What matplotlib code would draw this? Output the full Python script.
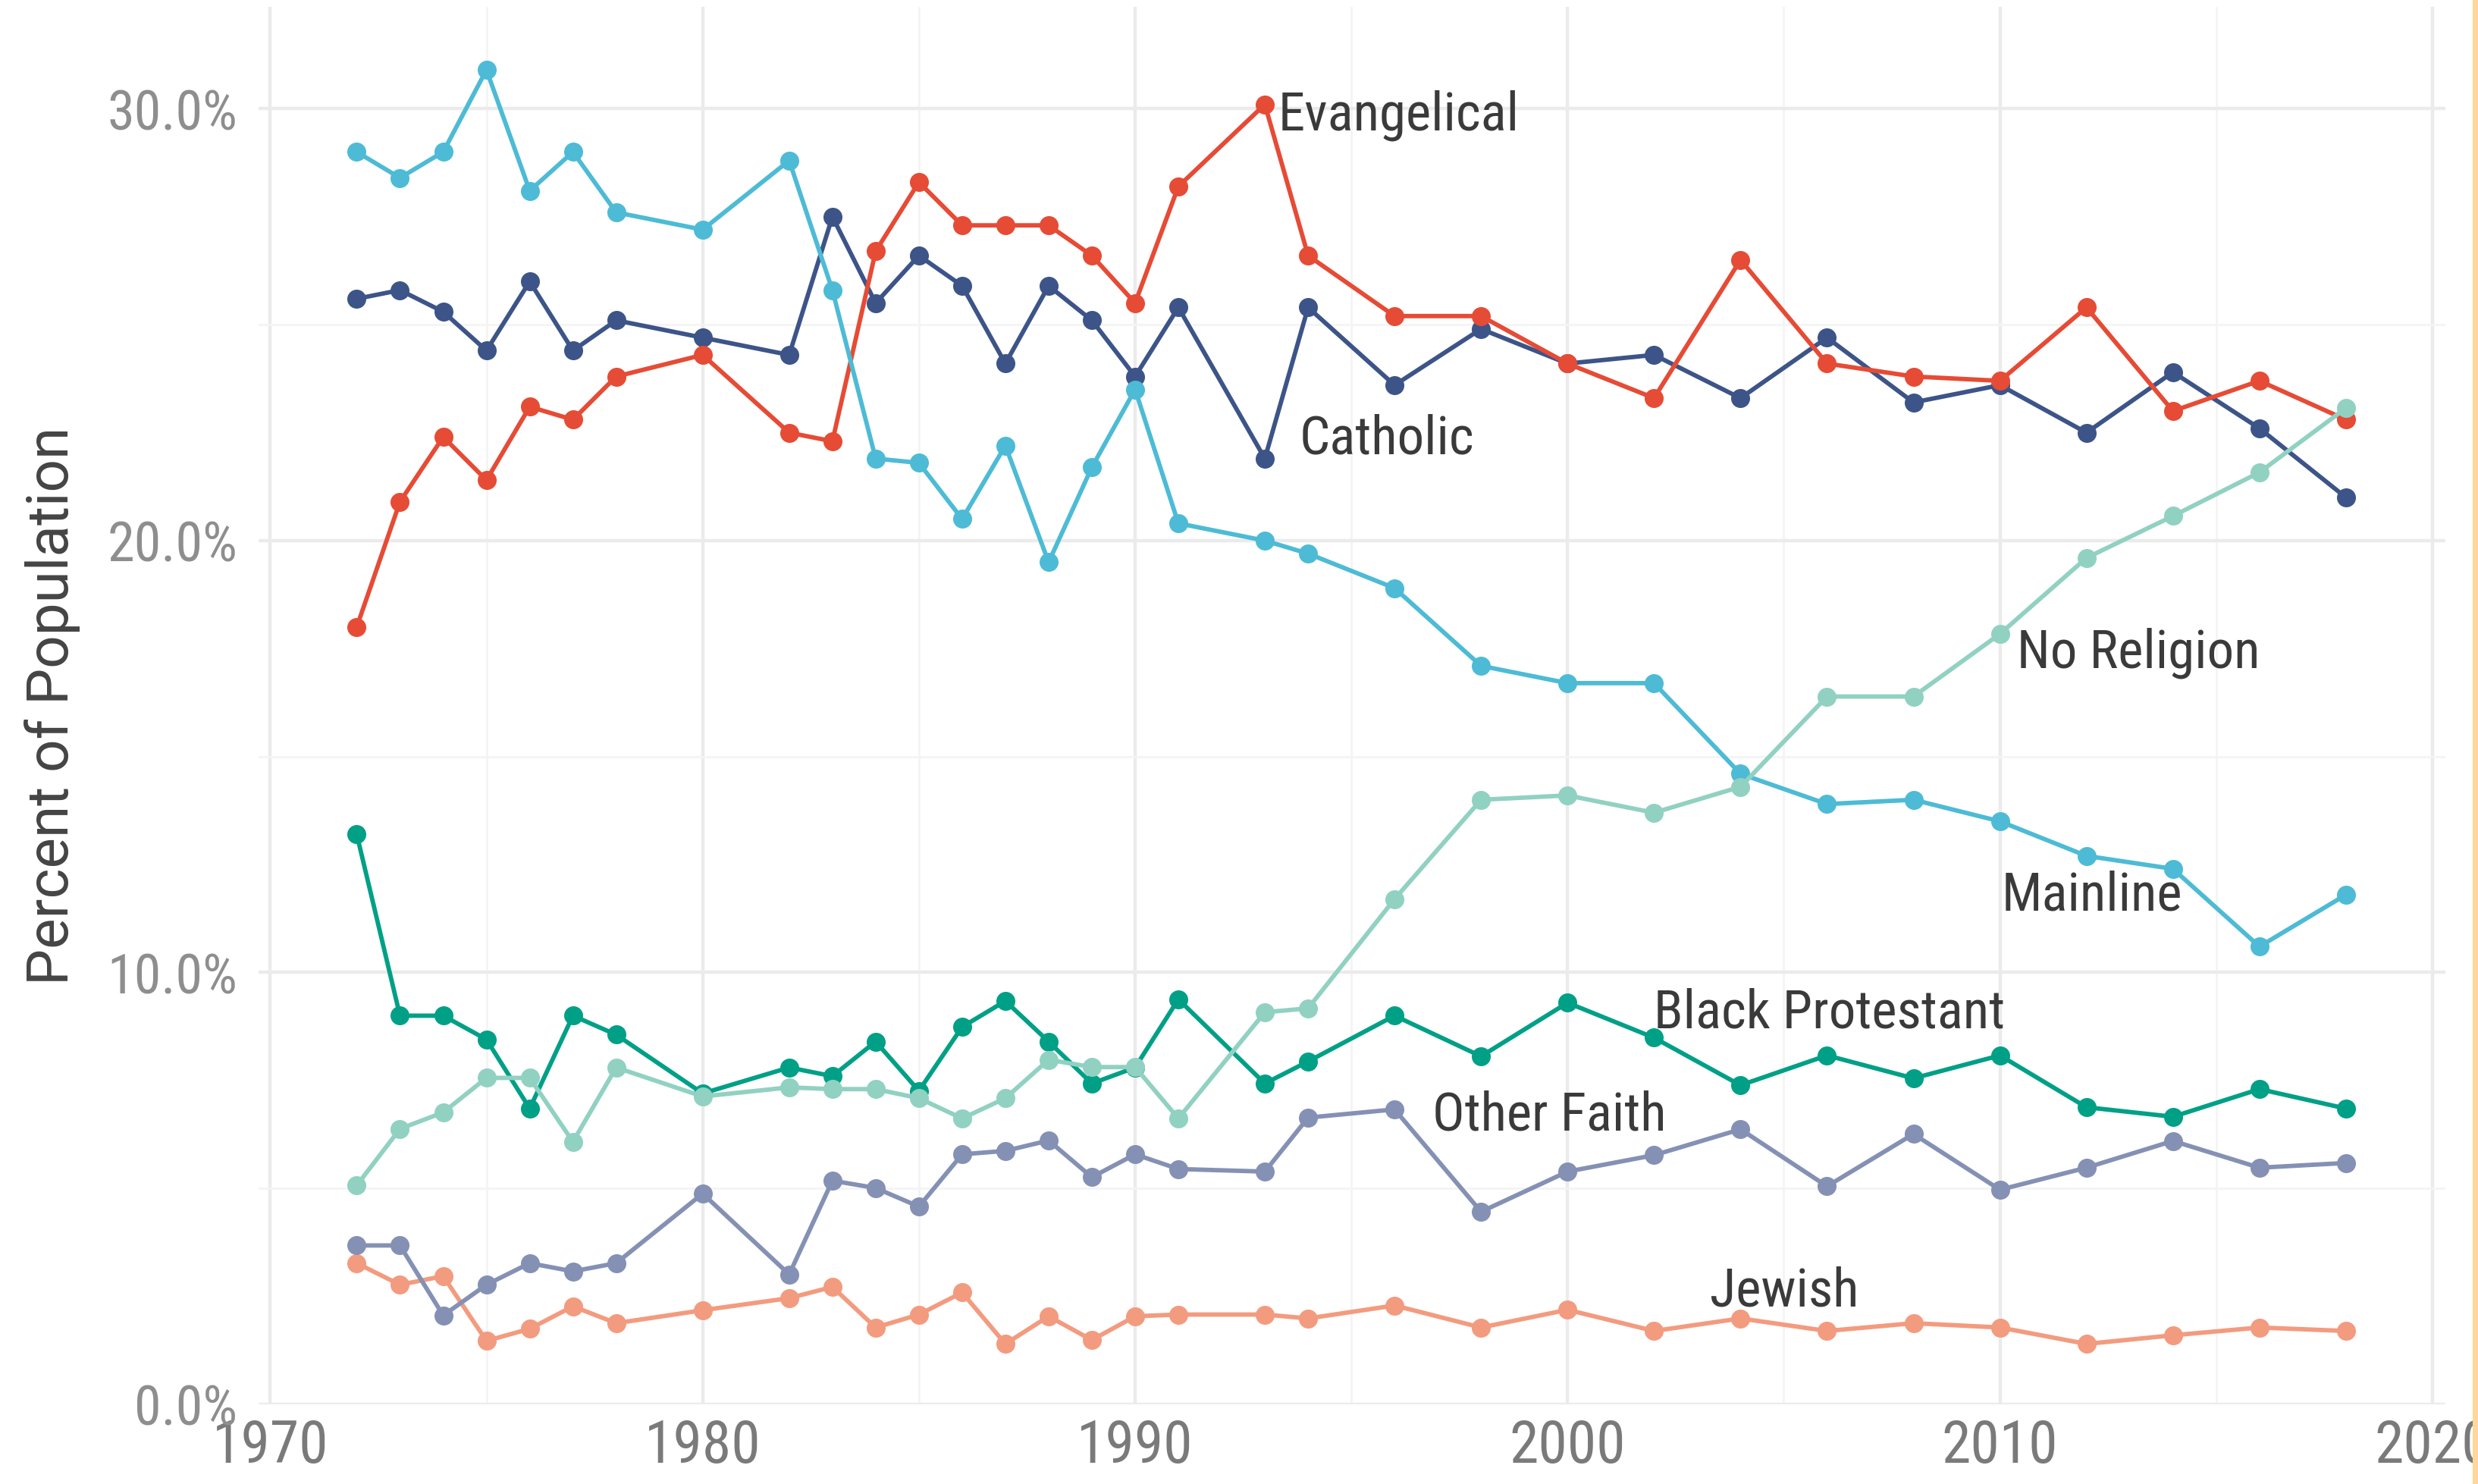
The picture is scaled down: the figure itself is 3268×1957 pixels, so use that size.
import matplotlib
matplotlib.use('Agg')
import matplotlib.pyplot as plt
import matplotlib.font_manager as fm
import matplotlib.ticker as ticker
from matplotlib.patches import Rectangle

# 字体：优先使用窄体
names = {f.name for f in fm.fontManager.ttflist}
cond_font = next((n for n in ['Liberation Sans Narrow', 'Roboto Condensed'] if n in names), 'DejaVu Sans')
title_font = 'Roboto' if 'Roboto' in names else 'DejaVu Sans'

# 数据（GSS 年份）
years = [1972, 1973, 1974, 1975, 1976, 1977, 1978, 1980, 1982, 1983, 1984, 1985,
         1986, 1987, 1988, 1989, 1990, 1991, 1993, 1994, 1996, 1998, 2000, 2002,
         2004, 2006, 2008, 2010, 2012, 2014, 2016, 2018]

black_protestant = [13.2, 9.0, 9.0, 8.45, 6.85, 9.0, 8.56, 7.2, 7.8, 7.6, 8.4, 7.26,
                    8.74, 9.34, 8.4, 7.43, 7.8, 9.38, 7.43, 7.94, 9.0, 8.06, 9.3, 8.49,
                    7.39, 8.08, 7.55, 8.08, 6.88, 6.66, 7.3, 6.85]
catholic = [25.6, 25.8, 25.3, 24.4, 26.0, 24.4, 25.1, 24.7, 24.3, 27.5, 25.5, 26.6,
            25.9, 24.1, 25.9, 25.1, 23.8, 25.4, 21.9, 25.4, 23.6, 24.9, 24.1, 24.3,
            23.3, 24.7, 23.2, 23.6, 22.5, 23.9, 22.6, 21.0]
evangelical = [18.0, 20.9, 22.4, 21.4, 23.1, 22.8, 23.8, 24.3, 22.5, 22.3, 26.7, 28.3,
               27.3, 27.3, 27.3, 26.6, 25.5, 28.2, 30.1, 26.6, 25.2, 25.2, 24.1, 23.3,
               26.5, 24.1, 23.8, 23.7, 25.4, 23.0, 23.7, 22.8]
jewish = [3.27, 2.77, 2.97, 1.47, 1.75, 2.27, 1.88, 2.18, 2.46, 2.72, 1.78, 2.08,
          2.59, 1.4, 2.04, 1.49, 2.04, 2.08, 2.08, 1.99, 2.29, 1.78, 2.19, 1.7,
          1.99, 1.7, 1.88, 1.78, 1.4, 1.6, 1.78, 1.7]
mainline = [29.0, 28.4, 29.0, 30.9, 28.1, 29.0, 27.6, 27.2, 28.8, 25.8, 21.9, 21.8,
            20.5, 22.2, 19.5, 21.7, 23.5, 20.4, 20.0, 19.7, 18.9, 17.1, 16.7, 16.7,
            14.6, 13.9, 14.0, 13.5, 12.7, 12.4, 10.6, 11.8]
no_religion = [5.07, 6.38, 6.76, 7.56, 7.56, 6.08, 7.8, 7.13, 7.34, 7.3, 7.3, 7.09,
               6.62, 7.09, 7.98, 7.81, 7.81, 6.62, 9.08, 9.17, 11.7, 14.0, 14.1, 13.7,
               14.3, 16.39, 16.39, 17.84, 19.6, 20.57, 21.58, 23.07]
other_faith = [3.68, 3.68, 2.06, 2.77, 3.27, 3.08, 3.27, 4.88, 3.01, 5.18, 5.01, 4.58,
               5.79, 5.87, 6.11, 5.26, 5.79, 5.45, 5.39, 6.64, 6.83, 4.46, 5.39, 5.77,
               6.37, 5.05, 6.26, 4.97, 5.48, 6.1, 5.48, 5.59]

series = [
    ('Black Protestant', black_protestant, '#00A087'),
    ('Catholic', catholic, '#3C5488'),
    ('Evangelical', evangelical, '#E64B35'),
    ('Jewish', jewish, '#F39B7F'),
    ('Mainline', mainline, '#4DBBD5'),
    ('No Religion', no_religion, '#91D1C2'),
    ('Other Faith', other_faith, '#8491B4'),
]

fig = plt.figure(figsize=(32.68, 19.58), dpi=100)
fig.patch.set_facecolor('white')
ax = fig.add_axes([341 / 3268, 105 / 1958, 2884 / 3268, 1843 / 1958])
ax.set_facecolor('white')

for name, vals, col in series:
    ax.plot(years, vals, color=col, lw=4.2, marker='o', ms=17, zorder=3)

ax.set_xlim(1969.73, 2020.3)
ax.set_ylim(0, 32.36)

ax.xaxis.set_major_locator(ticker.MultipleLocator(10))
ax.xaxis.set_minor_locator(ticker.MultipleLocator(5))
ax.yaxis.set_major_locator(ticker.MultipleLocator(10))
ax.yaxis.set_minor_locator(ticker.MultipleLocator(5))
ax.yaxis.set_major_formatter(ticker.FuncFormatter(lambda v, p: f'{v:.1f}%'))

ax.grid(True, which='major', color='#EBEBEB', lw=3.2, zorder=0)
ax.grid(True, which='minor', color='#F4F4F4', lw=2.0, zorder=0)
ax.set_axisbelow(True)
for s in ax.spines.values():
    s.set_visible(False)

ax.tick_params(which='both', length=0)
ax.tick_params(axis='y', pad=20, labelsize=52, labelcolor='#8E8E8E')
ax.tick_params(axis='x', pad=12, labelsize=56, labelcolor='#7A7A7A')
for lab in ax.get_xticklabels() + ax.get_yticklabels():
    lab.set_family(cond_font)

# 线条标签
labels = [
    ('Evangelical', 1993.3, 29.53),
    ('Catholic', 1993.8, 22.03),
    ('No Religion', 2010.4, 17.08),
    ('Mainline', 2010.04, 11.46),
    ('Black Protestant', 2002.0, 8.74),
    ('Other Faith', 1996.87, 6.37),
    ('Jewish', 2003.3, 2.29),
]
for txt, x, y in labels:
    ax.text(x, y, txt, fontsize=51, family=cond_font, color='#3A3A3A',
            ha='left', va='baseline', zorder=4)

fig.text(69 / 3268, 1 - 931 / 1958, 'Percent of Population', rotation=90,
         ha='center', va='center', fontsize=55, family=title_font, color='#444444')

# 右侧金色边条
fig.add_artist(Rectangle((3261 / 3268, 0), 7 / 3268, 1, transform=fig.transFigure,
                         facecolor='#FDD89A', edgecolor='none', zorder=10))

plt.savefig('out.png', dpi=100)
